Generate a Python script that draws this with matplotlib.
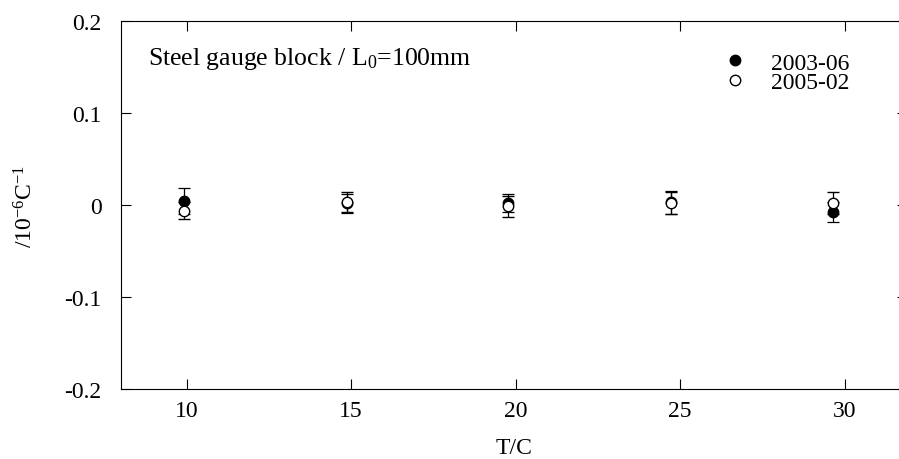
import numpy as np
import matplotlib
matplotlib.use('Agg')
import matplotlib.pyplot as plt

# data
temps = [9.93, 14.88, 19.76, 24.73, 29.64]
cte_2003 = [0.0045, 0.002, 0.002, 0.003, -0.0073]
err_2003 = [0.0145, 0.0105, 0.010, 0.0125, 0.011]
cte_2005 = [-0.0062, 0.003, -0.0015, 0.002, 0.0018]
err_2005 = [0.009, 0.011, 0.011, 0.012, 0.012]

x_ticks = [10, 15, 20, 25, 30]
y_ticks = [-0.2, -0.1, 0, 0.1, 0.2]
y_ticklabels = ['-0.2', '-0.1', '0', '0.1', '0.2']

plt.rcParams['font.family'] = ['Liberation Serif', 'DejaVu Serif']
plt.rcParams['mathtext.fontset'] = 'custom'
plt.rcParams['mathtext.rm'] = 'Liberation Serif'
plt.rcParams['mathtext.it'] = 'Liberation Serif'
plt.rcParams['axes.unicode_minus'] = False
fs = 17

fig = plt.figure(figsize=(8.99, 4.60), dpi=100)
ax = fig.add_axes([121/899, 70/460, 786/899, 368/460])

eb1 = ax.errorbar(temps, cte_2003, yerr=err_2003, fmt='o', color='black',
                  mfc='black', mec='black', ms=7.5, elinewidth=0.9, capsize=4,
                  capthick=0.9, zorder=3)
eb2 = ax.errorbar(temps, cte_2005, yerr=err_2005, fmt='o', color='black',
                  mfc='white', mec='black', ms=7.5, mew=1.0, elinewidth=0.9,
                  capsize=4, capthick=0.9, zorder=4)

ax.set_xlim(8, 31.9)
ax.set_ylim(-0.2, 0.2)
ax.set_xticks(x_ticks)
ax.set_yticks(y_ticks)
ax.set_yticklabels(y_ticklabels)
ax.tick_params(direction='in', top=True, right=True, length=7.5, width=0.8,
               labelsize=fs)
ax.tick_params(axis='x', pad=8)
ax.tick_params(axis='y', pad=14)
for s in ax.spines.values():
    s.set_linewidth(0.8)

ax.set_xlabel('T/C', fontsize=fs, labelpad=11.5)
ax.set_ylabel(r'/10$^{-6}$C$^{-1}$', fontsize=fs)
ax.yaxis.set_label_coords(-(121 - 38) / 786, 0.5)

ax.text(27/786, 1 - 43/368, r'Steel gauge block / L$_0$=100mm',
        transform=ax.transAxes, fontsize=18.5, va='baseline', ha='left')

ax.legend([eb1[0], eb2[0]], ['2003-06', '2005-02'], loc='upper left',
          bbox_to_anchor=(724/899, 1 - 53/460),
          bbox_transform=fig.transFigure, frameon=False, fontsize=fs,
          borderpad=0, borderaxespad=0, handlelength=0.9,
          handletextpad=1.1, labelspacing=-0.08)

fig.savefig('out.png', dpi=100)
